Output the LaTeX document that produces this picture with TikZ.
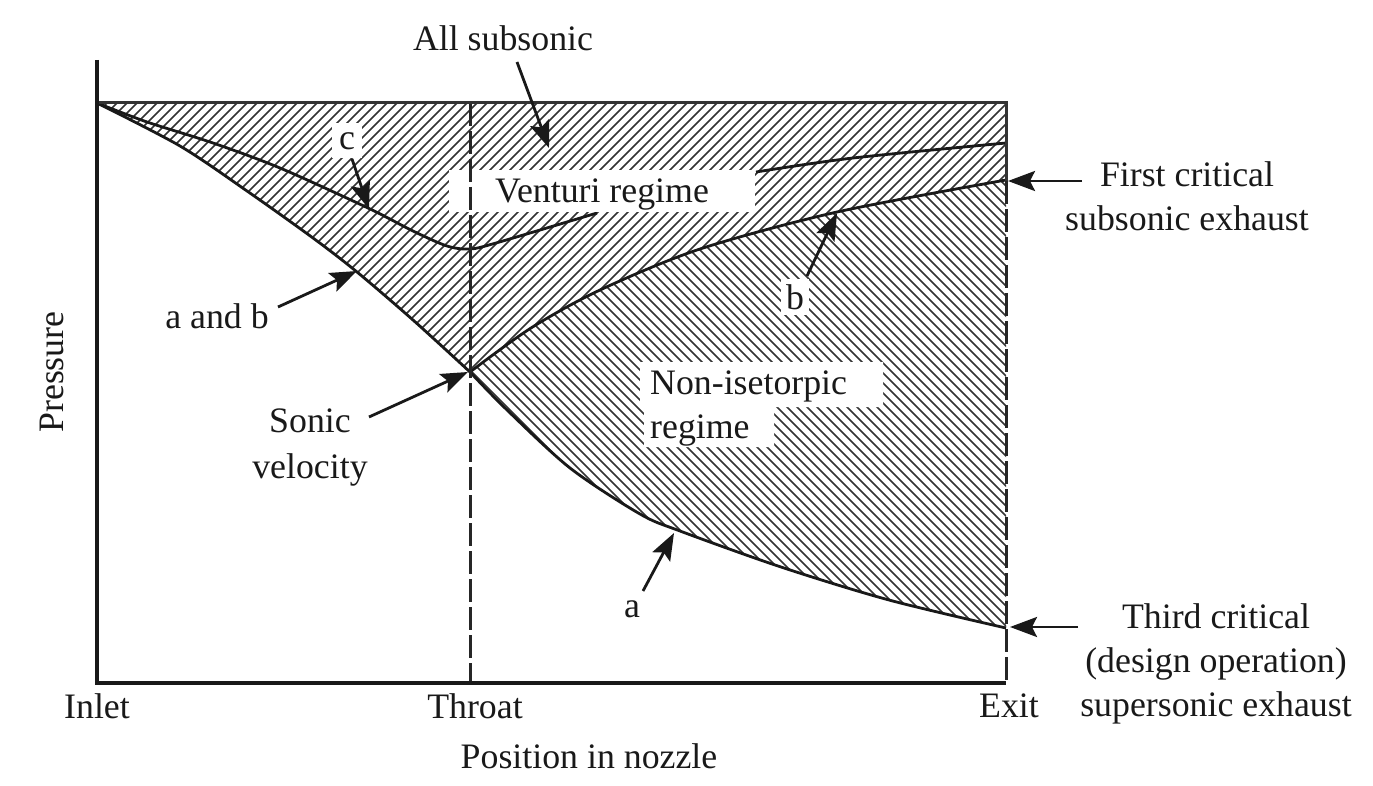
\documentclass[tikz,border=0pt]{standalone}
\usepackage{fontspec}
\setmainfont{Liberation Serif}
\usetikzlibrary{arrows.meta}
\tikzset{
  lbl/.style={inner sep=0pt,font=\fontsize{35.8}{44}\selectfont,align=center,text=black!90},
  blank/.style={lbl,fill=white},
  hatchline/.style={line width=1.6pt,black!80},
  curveline/.style={line width=2.8pt,black!90},
  pointer/.style={line width=2.8pt,black!90,-{Stealth[length=27pt,width=20pt,inset=5pt]}},
  guide/.style={line width=3pt,black!85,dash pattern=on 23pt off 5pt},
  axisline/.style={line width=4pt,black!90},
  frameline/.style={line width=3pt,black!80}
}
\def\curveAB{(97,103) (180,146) (247,191) (313,238) (357,272) (413,320) (470,372)}
\def\curveA{(470,372) (506,409) (570,468) (640,514) (680,531) (781,567) (889,600) (1006,628)}
\def\curveAr{(1006,628) (889,600) (781,567) (680,531) (640,514) (570,468) (506,409) (470,372)}
\def\curveB{(470,372) (531,328) (600,290) (700,249) (837,212) (1006,180)}
\def\curveC{(97,103) (147,122) (213,143) (280,168) (368,208) (413,231) (447,246) (470,249) (496,243) (597,213)}
\begin{document}
\begin{tikzpicture}[x=1pt,y=-1pt]
\useasboundingbox (0,0) rectangle (1373,786);
% upper hatching
\begin{scope}
  \clip plot[smooth] coordinates {\curveAB} -- plot[smooth] coordinates {\curveB} -- (1006,103) -- cycle;
  \foreach \c in {200,210,...,1250} \draw[hatchline] (\c,0) -- (\c-800,800);
\end{scope}
% lower hatching
\begin{scope}
  \clip plot[smooth] coordinates {\curveB} -- plot[smooth] coordinates {\curveAr} -- cycle;
  \foreach \c in {-600,-590,...,900} \draw[hatchline] (\c,0) -- (\c+800,800);
\end{scope}
% curves
\draw[curveline] plot[smooth] coordinates {\curveAB};
\draw[curveline] plot[smooth] coordinates {\curveA};
\draw[curveline] plot[smooth] coordinates {\curveB};
\draw[curveline] plot[smooth] coordinates {\curveC};
\draw[curveline] plot[smooth] coordinates {(756,172) (853,158) (1006,143)};
% white patches and labels
\fill[white] (640,362) rectangle (883,407) (644,407) rectangle (774,447);
\node[blank,minimum width=306pt,minimum height=42pt,text depth=0pt] (venturi) at (602,191) {Venturi regime};
\node[lbl,align=left,anchor=west] (nonise) at (650,409) {Non-isetorpic\\regime};
\node[blank,minimum width=30pt,minimum height=35pt] (lc) at (347,141) {c};
\node[blank,minimum width=28pt,minimum height=35pt] (lb) at (795,297) {b};
\node[lbl] (allsub) at (503,38) {All subsonic};
\node[lbl] (lab) at (217,316) {a and b};
\node[lbl,font=\fontsize{35.8}{46}\selectfont] (sonic) at (310,448) {Sonic\\velocity};
\node[lbl] (la) at (632,609) {a};
\node[lbl] (first) at (1187,196) {First critical\\subsonic exhaust};
\node[lbl] (third) at (1216,664) {Third critical\\(design operation)\\supersonic exhaust};
\node[lbl] (inlet) at (97,706) {Inlet};
\node[lbl] (throat) at (475,706) {Throat};
\node[lbl] (exit) at (1009,706) {Exit};
\node[lbl] (xlab) at (589,756) {Position in nozzle};
\node[lbl,rotate=90] (ylab) at (52,372) {Pressure};
% frame
\draw[guide] (470,103) -- (470,683);
\draw[guide] (1006,181) -- (1006,683);
\draw[frameline] (97,103) -- (1006,103) -- (1006,181);
\draw[axisline] (97,60) -- (97,683) -- (1006,683);
% pointers
\coordinate (tipAll) at (549,148);
\coordinate (tipC) at (369,209);
\coordinate (tipAB) at (357,271);
\coordinate (tipSonic) at (468,372);
\coordinate (tipB) at (837,213);
\coordinate (tipA) at (674,533);
\coordinate (tipFirst) at (1008,181);
\coordinate (tipThird) at (1010,627);
\draw[pointer] ([shift={(14,24)}]allsub.center) -- (tipAll);
\draw[pointer] ([shift={(5,18)}]lc.center) -- (tipC);
\draw[pointer] ([shift={(61,-9)}]lab.center) -- (tipAB);
\draw[pointer] ([shift={(59,-31)}]sonic.center) -- (tipSonic);
\draw[pointer] ([shift={(12,-21)}]lb.center) -- (tipB);
\draw[pointer] ([shift={(11,-18)}]la.center) -- (tipA);
\draw[pointer] ([shift={(-105,-15)}]first.center) -- (tipFirst);
\draw[pointer] ([shift={(-138,-37)}]third.center) -- (tipThird);
\end{tikzpicture}
\end{document}
